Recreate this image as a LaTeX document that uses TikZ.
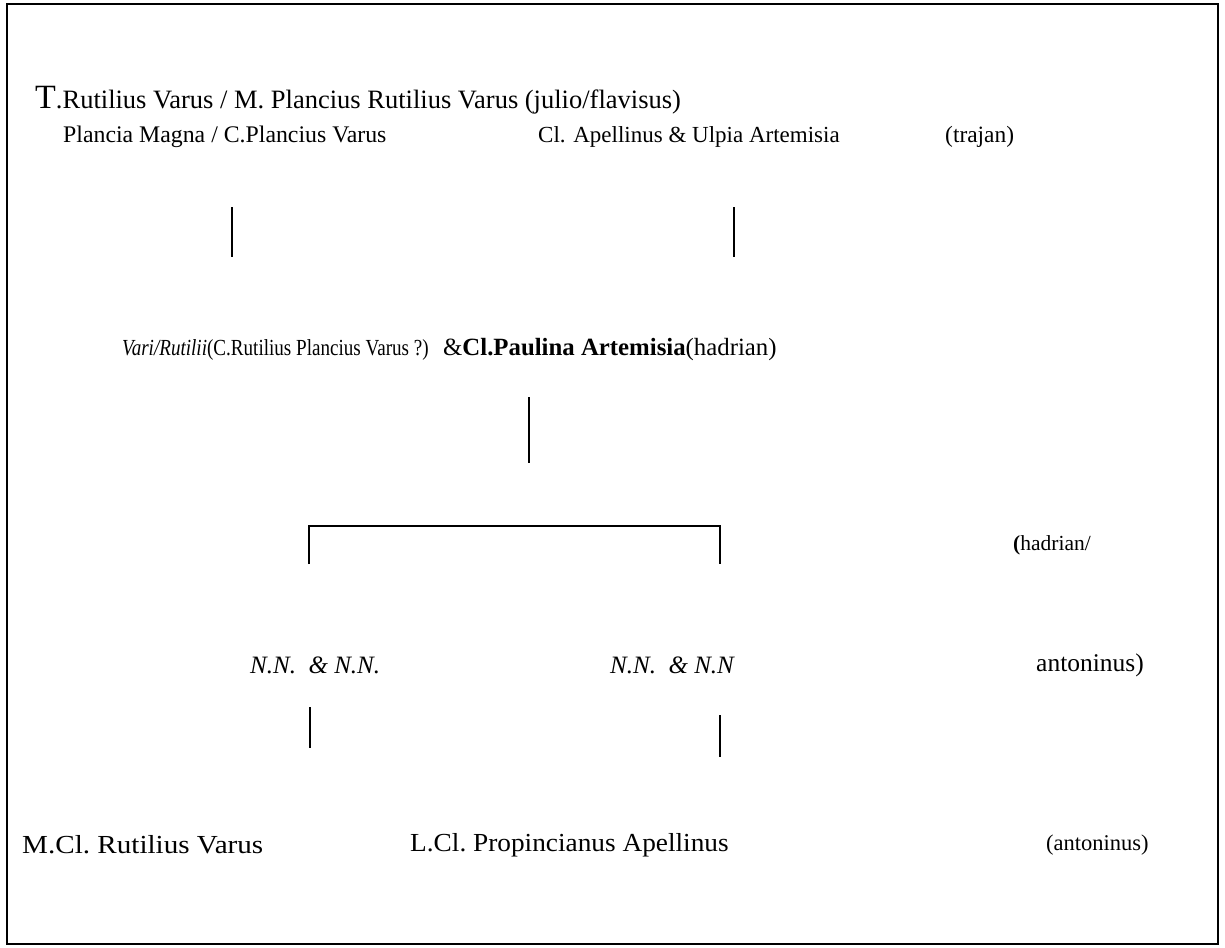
\documentclass[tikz,border=0pt]{standalone}
\usepackage{fontspec}
\setmainfont{Liberation Serif}
\usepackage{graphicx}
\newcommand{\fsz}[1]{\fontsize{#1}{#1}\selectfont}
\begin{document}
\begin{tikzpicture}[x=1pt,y=-1pt,
  txt/.style={anchor=west,inner sep=0pt},
  conn/.style={line width=1.6pt,line cap=butt},
  frame/.style={line width=2.2pt}]
\useasboundingbox (0,0) rectangle (1225,947);
\draw[frame] (7,4) rectangle (1218,944);
% texts
\node[txt,font=\fsz{26.5}] (t1) at (35,100) {{\fsz{34}T}.Rutilius Varus / M. Plancius Rutilius Varus (julio/flavisus)};
\node[txt,font=\fsz{23.8}] (pm) at (63,137) {Plancia Magna / C.Plancius Varus};
\node[txt,font=\fsz{23}] (ca) at (538,137) {Cl. Apellinus \& Ulpia Artemisia};
\node[txt,font=\fsz{23.4}] (tr) at (945,137) {(trajan)};
\node[txt,font=\fsz{23}] (vr) at (122,350) {\scalebox{0.83}[1]{\textit{Vari/Rutilii}(C.Rutilius Plancius Varus ?)}};
\node[txt,font=\fsz{24.8}] (cp) at (443,350) {\&\textbf{Cl.Paulina Artemisia}(hadrian)};
\node[txt,font=\fsz{21.5}] (hd) at (1013,545) {\textbf{(}hadrian/};
\node[txt,font=\fsz{25}] (nn1) at (250,665) {\textit{N.N.\ \ \& N.N.}};
\node[txt,font=\fsz{25}] (nn2) at (610,665) {\textit{N.N.\ \ \& N.N}};
\node[txt,font=\fsz{25.5}] (an) at (1036,665) {antoninus)};
\node[txt,font=\fsz{26}] (mc) at (22,845) {\scalebox{1.12}[1]{M.Cl.\ Rutilius Varus}};
\node[txt,font=\fsz{26}] (lc) at (410,845) {\scalebox{1.05}[1]{L.Cl.\ Propincianus Apellinus}};
\node[txt,font=\fsz{22.5}] (an2) at (1046,845) {(antoninus)};
% connector ends
\coordinate (a1) at (232,207); \coordinate (a2) at (232,257);
\coordinate (b1) at (734,207); \coordinate (b2) at (734,257);
\coordinate (c1) at (529,397); \coordinate (c2) at (529,463);
\coordinate (d1) at (309,564); \coordinate (d2) at (309,526);
\coordinate (d3) at (720,526); \coordinate (d4) at (720,564);
\coordinate (e1) at (310,707); \coordinate (e2) at (310,748);
\coordinate (f1) at (720,715); \coordinate (f2) at (720,757);
\draw[conn] (a1) -- (a2);
\draw[conn] (b1) -- (b2);
\draw[conn] (c1) -- (c2);
\draw[conn] (d1) -- (d2) -- (d3) -- (d4);
\draw[conn] (e1) -- (e2);
\draw[conn] (f1) -- (f2);
\end{tikzpicture}
\end{document}
